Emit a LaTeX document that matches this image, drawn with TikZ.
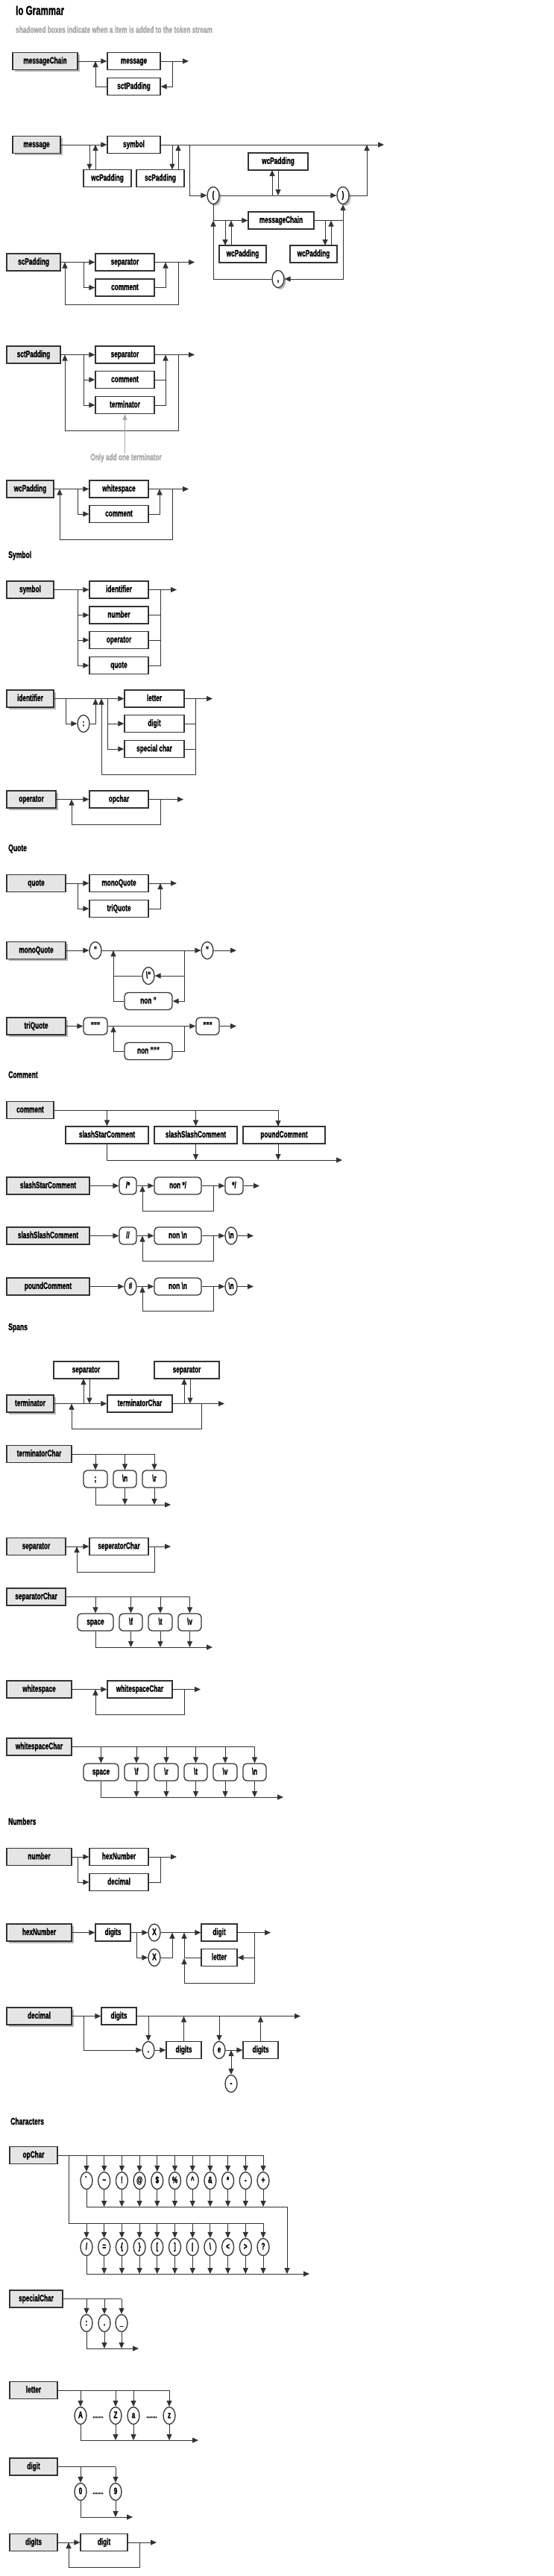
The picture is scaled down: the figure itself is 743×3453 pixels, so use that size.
\documentclass[tikz,border=0pt]{standalone}
\usepackage{fontspec}
\setmainfont{Liberation Sans}[FakeStretch=0.66, BoldFeatures={FakeBold=1.2}]
\usetikzlibrary{arrows.meta,shapes.geometric,shadows}
\definecolor{wirec}{HTML}{333333}
\definecolor{rulefill}{HTML}{E5E5E5}
\definecolor{notec}{HTML}{A8A8A8}
\tikzset{
  gbase/.style={draw=wirec, line width=1.3pt, font=\fontsize{12.5}{14}\selectfont\bfseries, inner sep=0pt, minimum height=23pt, text height=9pt, text depth=2.5pt},
  rulebox/.style={gbase, rectangle, fill=rulefill},
  shad/.style={drop shadow={shadow xshift=2.5pt, shadow yshift=-2.5pt, opacity=0.28, fill=black}},
  ntbox/.style={gbase, rectangle, fill=white},
  tmbox/.style={gbase, rectangle, rounded corners=5pt, fill=white},
  ov/.style={gbase, ellipse, fill=white, minimum width=16pt, minimum height=23pt},
  wire/.style={draw=wirec, line width=1pt},
  arr/.style={wire, -{Triangle[length=8pt,width=7pt]}},
  dblarr/.style={wire, {Triangle[length=8pt,width=7pt]}-{Triangle[length=8pt,width=7pt]}},
  notearr/.style={draw=notec, line width=0.7pt, -{Triangle[length=8pt,width=6pt]}},
  hdg/.style={anchor=base west, inner sep=0pt, font=\fontsize{13}{15}\selectfont\bfseries},
  dotsty/.style={anchor=base, inner sep=0pt, font=\fontsize{11}{12}\selectfont\bfseries},
}
\newcommand\mkbox[6]{\pgfmathsetmacro\mkw{#4-#3}\pgfmathsetmacro\mkc{(#3+#4)/2}\node[#1, minimum width=\mkw pt] (#2) at (\mkc,#5) {#6};}
\begin{document}
\begin{tikzpicture}[x=1pt,y=-1pt]
\useasboundingbox[fill=white] (0,0) rectangle (743,3453);

% ---- title
\node[anchor=base west, inner sep=0pt, font=\fontsize{17.5}{20}\selectfont\bfseries] (title) at (21,20) {Io Grammar};
\node[anchor=base west, inner sep=0pt, font=\fontsize{12.5}{14}\selectfont\bfseries, text=notec] (subtitle) at (21,44) {shadowed boxes indicate when a item is added to the token stream};

% ---- messageChain
\mkbox{rulebox,shad}{mc}{17}{104}{82}{messageChain}
\mkbox{ntbox}{msgA}{144}{215}{82}{message}
\mkbox{ntbox}{sctA}{144}{215}{116}{sctPadding}
\coordinate (mcA) at (128,82); \coordinate (mcB) at (231,82); \coordinate (mcO) at (253,82);
\draw[arr] (mc.east) -- (msgA.west);
\draw[arr] (msgA.east) -- (mcO);
\draw[arr] (mcB) |- (sctA.east);
\draw[arr] (sctA.west) -| (mcA);

% ---- message
\mkbox{rulebox,shad}{msg}{17}{81}{194}{message}
\mkbox{ntbox}{sym}{144}{215}{194}{symbol}
\mkbox{ntbox}{wcpA}{112}{176}{239}{wcPadding}
\mkbox{ntbox}{scpA}{183}{247}{239}{scPadding}
\node[ov,shad] (lp) at (286,262) {(};
\node[ov,shad] (rp) at (460,262) {)};
\mkbox{ntbox}{wcpB}{333}{413}{216.5}{wcPadding}
\mkbox{ntbox}{mch}{333}{421}{295.5}{messageChain}
\mkbox{ntbox}{wcpC}{294}{357}{340.5}{wcPadding}
\mkbox{ntbox}{wcpD}{389}{452}{340.5}{wcPadding}
\node[ov,shad] (cm) at (373,374) {,};
\coordinate (mO) at (515,194); \coordinate (mJ) at (254,194); \coordinate (mR) at (492,194);
\coordinate (mL) at (286,295.5); \coordinate (mM) at (460,295.5);
\draw[arr] (msg.east) -- (sym.west);
\draw[arr] (sym.east) -- (mO);
\draw[arr] (120,194) -- (120,227.5);
\draw[arr] (128,227.5) -- (128,194);
\draw[arr] (231,194) -- (231,227.5);
\draw[arr] (239,227.5) -- (239,194);
\draw[arr] (mJ) |- (lp.west);
\draw[arr] (lp.east) -- (rp.west);
\draw[arr] (rp.east) -| (mR);
\draw[arr] (365,262) -- (365,228);
\draw[arr] (373,228) -- (373,262);
\draw[arr] (lp.south) |- (mch.west);
\draw[arr] (302,295.5) -- (302,329);
\draw[arr] (310,329) -- (310,295.5);
\draw[arr] (436,295.5) -- (436,329);
\draw[arr] (444,329) -- (444,295.5);
\draw[arr] (mch.east) -| (rp.south);
\draw[arr] (mM) |- (cm.east);
\draw[arr] (cm.west) -| (mL);

% ---- scPadding
\mkbox{rulebox}{scp}{9}{81}{351.5}{scPadding}
\mkbox{ntbox}{sepA}{128}{207}{351.5}{separator}
\mkbox{ntbox}{comA}{128}{207}{385.5}{comment}
\draw[arr] (scp.east) -- (sepA.west);
\draw[arr] (112,351.5) |- (comA.west);
\draw[arr] (sepA.east) -- (261,351.5);
\draw[arr] (comA.east) -| (222,351.5);
\draw[arr] (239,351.5) -- (239,408) -- (87,408) -- (87,351.5);

% ---- sctPadding
\mkbox{rulebox}{sctp}{9}{81}{475.5}{sctPadding}
\mkbox{ntbox}{sepB}{128}{207}{475.5}{separator}
\mkbox{ntbox}{comB}{128}{207}{509}{comment}
\mkbox{ntbox}{termA}{128}{207}{543}{terminator}
\draw[arr] (sctp.east) -- (sepB.west);
\draw[wire] (112,475.5) -- (112,543);
\draw[arr] (112,509) -- (comB.west);
\draw[arr] (112,543) -- (termA.west);
\draw[arr] (sepB.east) -- (261,475.5);
\draw[wire] (comB.east) -- (222,509);
\draw[arr] (termA.east) -| (222,475.5);
\draw[arr] (239,475.5) -- (239,577) -- (87,577) -- (87,475.5);
\node[anchor=base, inner sep=0pt, font=\fontsize{12.5}{14}\selectfont\bfseries, text=notec] (note) at (169,617) {Only add one terminator};
\draw[notearr] (termA.south |- note.north) -- (termA.south);

% ---- wcPadding
\mkbox{rulebox}{wcp}{9}{72}{655.5}{wcPadding}
\mkbox{ntbox}{wsA}{120}{199}{655.5}{whitespace}
\mkbox{ntbox}{comC}{120}{199}{689}{comment}
\draw[arr] (wcp.east) -- (wsA.west);
\draw[arr] (104,655.5) |- (comC.west);
\draw[arr] (wsA.east) -- (253,655.5);
\draw[arr] (comC.east) -| (214,655.5);
\draw[arr] (231,655.5) -- (231,723) -- (80,723) -- (80,655.5);

\node[hdg] (hSymbol) at (11,748) {Symbol};

% ---- symbol
\mkbox{rulebox}{symB}{9}{72}{790.5}{symbol}
\mkbox{ntbox}{idA}{120}{199}{790.5}{identifier}
\mkbox{ntbox}{numA}{120}{199}{824.5}{number}
\mkbox{ntbox}{opA}{120}{199}{858}{operator}
\mkbox{ntbox}{quoA}{120}{199}{892}{quote}
\draw[arr] (symB.east) -- (idA.west);
\draw[wire] (104,790.5) -- (104,892);
\draw[arr] (104,824.5) -- (numA.west);
\draw[arr] (104,858) -- (opA.west);
\draw[arr] (104,892) -- (quoA.west);
\draw[arr] (idA.east) -- (237,790.5);
\draw[wire] (215,790.5) -- (215,892) -- (quoA.east);
\draw[wire] (numA.east) -- (215,824.5);
\draw[wire] (opA.east) -- (215,858);

% ---- identifier
\mkbox{rulebox,shad}{idB}{9}{72}{936.5}{identifier}
\mkbox{ntbox}{letA}{167}{247}{936.5}{letter}
\mkbox{ntbox}{digA}{167}{247}{970}{digit}
\mkbox{ntbox}{spcA}{167}{247}{1004}{special char}
\node[ov] (colon) at (112,970) {:};
\draw[arr] (idB.east) -- (letA.west);
\draw[arr] (88,936.5) |- (colon.west);
\draw[arr] (colon.east) -| (128,936.5);
\draw[wire] (144,936.5) -- (144,1004);
\draw[arr] (144,970) -- (digA.west);
\draw[arr] (144,1004) -- (spcA.west);
\draw[arr] (letA.east) -- (285,936.5);
\draw[wire] (digA.east) -- (262,970);
\draw[wire] (spcA.east) -- (262,1004);
\draw[arr] (262,936.5) -- (262,1038) -- (136,1038) -- (136,936.5);

% ---- operator
\mkbox{rulebox,shad}{opB}{9}{75}{1071.5}{operator}
\mkbox{ntbox}{opcA}{120}{199}{1071.5}{opchar}
\draw[arr] (opB.east) -- (opcA.west);
\draw[arr] (opcA.east) -- (246,1071.5);
\draw[arr] (215,1071.5) -- (215,1105) -- (96,1105) -- (96,1071.5);

\node[hdg] (hQuote) at (11,1141) {Quote};

% ---- quote
\mkbox{rulebox}{quoB}{9}{88}{1184}{quote}
\mkbox{ntbox}{mqA}{120}{199}{1184}{monoQuote}
\mkbox{ntbox}{tqA}{120}{199}{1218}{triQuote}
\draw[arr] (quoB.east) -- (mqA.west);
\draw[arr] (104,1184) |- (tqA.west);
\draw[arr] (mqA.east) -- (237,1184);
\draw[arr] (tqA.east) -| (215,1184);

% ---- monoQuote
\mkbox{rulebox,shad}{mqB}{9}{88}{1274}{monoQuote}
\node[ov] (dqA) at (128,1274) {"};
\node[ov] (dqB) at (278,1274) {"};
\node[ov] (edq) at (199,1308) {\textbackslash"};
\mkbox{tmbox}{nondq}{167}{231}{1342}{non "}
\draw[arr] (mqB.east) -- (dqA.west);
\draw[arr] (dqA.east) -- (dqB.west);
\draw[arr] (dqB.east) -- (317,1274);
\draw[wire] (247,1274) -- (247,1308);
\draw[arr] (247,1308) -- (edq.east);
\draw[arr] (247,1308) |- (nondq.east);
\draw[wire] (edq.west) -- (152,1308);
\draw[arr] (nondq.west) -| (152,1274);

% ---- triQuote
\mkbox{rulebox,shad}{tqB}{9}{88}{1375.5}{triQuote}
\mkbox{tmbox}{tdqA}{112}{144}{1375.5}{"""}
\mkbox{tmbox}{tdqB}{263}{294}{1375.5}{"""}
\mkbox{tmbox}{nontdq}{167}{231}{1409}{non """}
\draw[arr] (tqB.east) -- (tdqA.west);
\draw[arr] (tdqA.east) -- (tdqB.west);
\draw[arr] (tdqB.east) -- (317,1375.5);
\draw[wire] (247,1375.5) |- (nontdq.east);
\draw[arr] (nontdq.west) -| (152,1375.5);

\node[hdg] (hComment) at (11,1445) {Comment};

% ---- comment
\mkbox{rulebox}{comD}{9}{72}{1488}{comment}
\mkbox{ntbox}{sscA}{88}{199}{1521.5}{slashStarComment}
\mkbox{ntbox}{sslA}{207}{318}{1521.5}{slashSlashComment}
\mkbox{ntbox}{pcA}{326}{436}{1521.5}{poundComment}
\coordinate (cmO) at (459,1555);
\draw[wire] (comD.east) -- (373,1488);
\draw[arr] (sscA.north |- comD.east) -- (sscA.north);
\draw[arr] (sslA.north |- comD.east) -- (sslA.north);
\draw[arr] (373,1488) -- (373,1510);
\draw[arr] (sscA.south) |- (cmO);
\draw[arr] (sslA.south) -- (sslA.south |- cmO);
\draw[arr] (373,1533) -- (373,1555);

% ---- slashStarComment
\mkbox{rulebox}{sscB}{9}{120}{1589.5}{slashStarComment}
\mkbox{tmbox}{ssA}{160}{183}{1589.5}{/*}
\mkbox{tmbox}{ssB}{207}{270}{1589.5}{non */}
\mkbox{tmbox}{ssC}{302}{326}{1589.5}{*/}
\draw[arr] (sscB.east) -- (ssA.west);
\draw[arr] (ssA.east) -- (ssB.west);
\draw[arr] (ssB.east) -- (ssC.west);
\draw[arr] (ssC.east) -- (348,1589.5);
\draw[arr] (286,1589.5) -- (286,1623) -- (191,1623) -- (191,1589.5);

% ---- slashSlashComment
\mkbox{rulebox}{sslB}{9}{120}{1656.5}{slashSlashComment}
\mkbox{tmbox}{slA}{160}{183}{1656.5}{//}
\mkbox{tmbox}{slB}{207}{270}{1656.5}{non \textbackslash n}
\node[ov] (slC) at (310,1656.5) {\textbackslash n};
\draw[arr] (sslB.east) -- (slA.west);
\draw[arr] (slA.east) -- (slB.west);
\draw[arr] (slB.east) -- (slC.west);
\draw[arr] (slC.east) -- (340,1656.5);
\draw[arr] (286,1656.5) -- (286,1690) -- (191,1690) -- (191,1656.5);

% ---- poundComment
\mkbox{rulebox}{pcB}{9}{120}{1724.5}{poundComment}
\node[ov] (pdA) at (175,1724.5) {\#};
\mkbox{tmbox}{pdB}{207}{270}{1724.5}{non \textbackslash n}
\node[ov] (pdC) at (310,1724.5) {\textbackslash n};
\draw[arr] (pcB.east) -- (pdA.west);
\draw[arr] (pdA.east) -- (pdB.west);
\draw[arr] (pdB.east) -- (pdC.west);
\draw[arr] (pdC.east) -- (340,1724.5);
\draw[arr] (286,1724.5) -- (286,1757) -- (191,1757) -- (191,1724.5);

\node[hdg] (hSpans) at (11,1783) {Spans};

% ---- terminator
\mkbox{rulebox,shad}{termB}{9}{72}{1881.5}{terminator}
\mkbox{ntbox}{sepC}{72}{159}{1836.5}{separator}
\mkbox{ntbox}{tcA}{144}{231}{1881.5}{terminatorChar}
\mkbox{ntbox}{sepD}{207}{294}{1836.5}{separator}
\draw[arr] (termB.east) -- (tcA.west);
\draw[arr] (112,1881.5) -- (112,1848);
\draw[arr] (120,1848) -- (120,1881.5);
\draw[arr] (tcA.east) -- (301,1881.5);
\draw[arr] (247,1881.5) -- (247,1848);
\draw[arr] (255,1848) -- (255,1881.5);
\draw[arr] (270,1881.5) -- (270,1915) -- (96,1915) -- (96,1881.5);

% ---- terminatorChar
\mkbox{rulebox}{tcB}{9}{96}{1949}{terminatorChar}
\mkbox{tmbox}{tcC1}{112}{144}{1982.5}{;}
\mkbox{tmbox}{tcC2}{152}{183}{1982.5}{\textbackslash n}
\mkbox{tmbox}{tcC3}{191}{223}{1982.5}{\textbackslash r}
\coordinate (tcO) at (229,2017);
\draw[wire] (tcB.east) -- (tcC3.north |- tcB.east);
\foreach \i in {1,2,3}{\draw[arr] (tcC\i.north |- tcB.east) -- (tcC\i.north);}
\draw[arr] (tcC1.south) |- (tcO);
\foreach \i in {2,3}{\draw[arr] (tcC\i.south) -- (tcC\i.south |- tcO);}

% ---- separator
\mkbox{rulebox}{sepE}{9}{88}{2073}{separator}
\mkbox{ntbox}{spcB}{120}{199}{2073}{seperatorChar}
\draw[arr] (sepE.east) -- (spcB.west);
\draw[arr] (spcB.east) -- (229,2073);
\draw[arr] (207,2073) -- (207,2107) -- (103,2107) -- (103,2073);

% ---- separatorChar
\mkbox{rulebox}{scB}{9}{88}{2140.5}{separatorChar}
\mkbox{tmbox}{scC1}{104}{152}{2174.5}{space}
\mkbox{tmbox}{scC2}{160}{191}{2174.5}{\textbackslash f}
\mkbox{tmbox}{scC3}{199}{231}{2174.5}{\textbackslash t}
\mkbox{tmbox}{scC4}{239}{270}{2174.5}{\textbackslash v}
\coordinate (scO) at (285,2208);
\draw[wire] (scB.east) -- (scC4.north |- scB.east);
\foreach \i in {1,2,3,4}{\draw[arr] (scC\i.north |- scB.east) -- (scC\i.north);}
\draw[arr] (scC1.south) |- (scO);
\foreach \i in {2,3,4}{\draw[arr] (scC\i.south) -- (scC\i.south |- scO);}

% ---- whitespace
\mkbox{rulebox}{wsB}{9}{96}{2264.5}{whitespace}
\mkbox{ntbox}{wscA}{144}{231}{2264.5}{whitespaceChar}
\draw[arr] (wsB.east) -- (wscA.west);
\draw[arr] (wscA.east) -- (269,2264.5);
\draw[arr] (247,2264.5) -- (247,2298) -- (128,2298) -- (128,2264.5);

% ---- whitespaceChar
\mkbox{rulebox}{wscB}{9}{96}{2341.5}{whitespaceChar}
\mkbox{tmbox}{wcC1}{112}{159}{2375.5}{space}
\mkbox{tmbox}{wcC2}{167}{199}{2375.5}{\textbackslash f}
\mkbox{tmbox}{wcC3}{207}{239}{2375.5}{\textbackslash r}
\mkbox{tmbox}{wcC4}{247}{278}{2375.5}{\textbackslash t}
\mkbox{tmbox}{wcC5}{286}{318}{2375.5}{\textbackslash v}
\mkbox{tmbox}{wcC6}{326}{357}{2375.5}{\textbackslash n}
\coordinate (wcO) at (380,2409);
\draw[wire] (wscB.east) -- (wcC6.north |- wscB.east);
\foreach \i in {1,...,6}{\draw[arr] (wcC\i.north |- wscB.east) -- (wcC\i.north);}
\draw[arr] (wcC1.south) |- (wcO);
\foreach \i in {2,...,6}{\draw[arr] (wcC\i.south) -- (wcC\i.south |- wcO);}

\node[hdg] (hNumbers) at (11,2446) {Numbers};

% ---- number
\mkbox{rulebox}{numB}{9}{96}{2489}{number}
\mkbox{ntbox}{hexA}{120}{199}{2489}{hexNumber}
\mkbox{ntbox}{decA}{120}{199}{2523}{decimal}
\draw[arr] (numB.east) -- (hexA.west);
\draw[arr] (104,2489) |- (decA.west);
\draw[arr] (hexA.east) -- (237,2489);
\draw[wire] (decA.east) -| (215,2489);

% ---- hexNumber
\mkbox{rulebox,shad}{hexB}{9}{96}{2590.5}{hexNumber}
\mkbox{ntbox}{hdg1}{128}{175}{2590.5}{digits}
\node[ov] (hxA) at (207,2590.5) {X};
\mkbox{ntbox}{hdig}{270}{318}{2590.5}{digit}
\node[ov] (hxB) at (207,2624) {X};
\mkbox{ntbox}{hlet}{270}{318}{2624}{letter}
\draw[arr] (hexB.east) -- (hdg1.west);
\draw[arr] (hdg1.east) -- (hxA.west);
\draw[arr] (hxA.east) -- (hdig.west);
\draw[arr] (hdig.east) -- (363,2590.5);
\draw[arr] (183,2590.5) |- (hxB.west);
\draw[arr] (hxB.east) -| (231,2590.5);
\draw[wire] (341,2590.5) -- (341,2624);
\draw[arr] (341,2624) -- (hlet.east);
\draw[arr] (341,2624) -- (341,2658) -- (247,2658) -- (247,2625);
\draw[arr] (hlet.west) -| (247,2590.5);

% ---- decimal
\mkbox{rulebox,shad}{decB}{9}{96}{2702.5}{decimal}
\mkbox{ntbox}{ddgA}{136}{183}{2702.5}{digits}
\node[ov] (ddot) at (199,2748) {.};
\mkbox{ntbox}{ddgB}{223}{270}{2748}{digits}
\node[ov] (dexp) at (294,2748) {e};
\mkbox{ntbox}{ddgC}{326}{373}{2748}{digits}
\node[ov] (dmin) at (310,2793) {-};
\coordinate (dO) at (403,2702.5);
\draw[arr] (decB.east) -- (ddgA.west);
\draw[arr] (ddgA.east) -- (dO);
\draw[arr] (112,2702.5) |- (ddot.west);
\draw[arr] (ddot.north |- dO) -- (ddot.north);
\draw[arr] (ddot.east) -- (ddgB.west);
\draw[arr] (ddgB.north) -- (ddgB.north |- dO);
\draw[arr] (dexp.north |- dO) -- (dexp.north);
\draw[arr] (dexp.east) -- (ddgC.west);
\draw[arr] (ddgC.north) -- (ddgC.north |- dO);
\draw[dblarr] (dmin.north) -- (310,2748);

\node[hdg] (hChars) at (14,2848) {Characters};

% ---- opChar
\mkbox{rulebox}{opcB}{13}{77}{2889}{opChar}
\foreach \i/\c in {0/{\textasciigrave},1/{\textasciitilde},2/{!},3/{@},4/{\$},5/{\%},6/{\textasciicircum},7/{\&},8/{*},9/{-},10/{+}}{
  \node[ov] (oa\i) at ({116+23.7*\i},2923) {\c};
}
\foreach \i/\c in {0/{\slash},1/{=},2/{\{},3/{\}},4/{[},5/{]},6/{|},7/{\textbackslash},8/{<},9/{>},10/{?}}{
  \node[ov] (ob\i) at ({116+23.7*\i},3012) {\c};
}
\coordinate (ocS) at (92,2889);
\coordinate (ocR) at (353,2980);
\coordinate (ocT) at (385,2958);
\coordinate (ocO) at (415,3048);
\draw[wire] (opcB.east) -- (oa10.north |- opcB.east);
\foreach \i in {0,...,10}{\draw[arr] (oa\i.north |- opcB.east) -- (oa\i.north);}
\draw[wire] (ocS) |- (ocR);
\foreach \i in {0,...,10}{\draw[arr] (ob\i.north |- ocR) -- (ob\i.north);}
\draw[arr] (oa0.south) |- (ocT) -- (ocT |- ocO);
\foreach \i in {1,...,10}{\draw[arr] (oa\i.south) -- (oa\i.south |- ocT);}
\draw[arr] (ob0.south) |- (ocO);
\foreach \i in {1,...,10}{\draw[arr] (ob\i.south) -- (ob\i.south |- ocO);}

% ---- specialChar
\mkbox{rulebox}{spcC}{13}{84}{3081.5}{specialChar}
\node[ov] (spA) at (116,3114) {:};
\node[ov] (spB) at (140,3114) {.};
\node[ov] (spC) at (163,3114) {\_};
\coordinate (spO) at (186,3148);
\draw[wire] (spcC.east) -- (spC.north |- spcC.east);
\foreach \n in {spA,spB,spC}{\draw[arr] (\n.north |- spcC.east) -- (\n.north);}
\draw[arr] (spA.south) |- (spO);
\foreach \n in {spB,spC}{\draw[arr] (\n.south) -- (\n.south |- spO);}

% ---- letter
\mkbox{rulebox}{letB}{13}{77}{3204}{letter}
\node[ov] (lA) at (108,3238) {A};
\node[ov] (lZ) at (155,3238) {Z};
\node[ov] (la) at (179,3238) {a};
\node[ov] (lz) at (227,3238) {z};
\node[dotsty] (ldA) at (131.5,3241) {.......};
\node[dotsty] (ldB) at (203.5,3241) {.......};
\coordinate (lO) at (266,3271);
\draw[wire] (letB.east) -- (lz.north |- letB.east);
\foreach \n in {lA,lZ,la,lz}{\draw[arr] (\n.north |- letB.east) -- (\n.north);}
\draw[arr] (lA.south) |- (lO);
\foreach \n in {lZ,la,lz}{\draw[arr] (\n.south) -- (\n.south |- lO);}

% ---- digit
\mkbox{rulebox}{digB}{13}{77}{3306.5}{digit}
\node[ov] (d0) at (108,3340) {0};
\node[ov] (d9) at (155,3340) {9};
\node[dotsty] (ddA) at (131.5,3343) {.......};
\coordinate (dgO) at (178,3374);
\draw[wire] (digB.east) -- (d9.north |- digB.east);
\foreach \n in {d0,d9}{\draw[arr] (\n.north |- digB.east) -- (\n.north);}
\draw[arr] (d0.south) |- (dgO);
\draw[arr] (d9.south) -- (d9.south |- dgO);

% ---- digits
\mkbox{rulebox}{dgsB}{13}{77}{3408}{digits}
\mkbox{ntbox}{dgsA}{108}{171}{3408}{digit}
\draw[arr] (dgsB.east) -- (dgsA.west);
\draw[arr] (dgsA.east) -- (210,3408);
\draw[arr] (187,3408) -- (187,3441) -- (92,3441) -- (92,3408);
\end{tikzpicture}
\end{document}
